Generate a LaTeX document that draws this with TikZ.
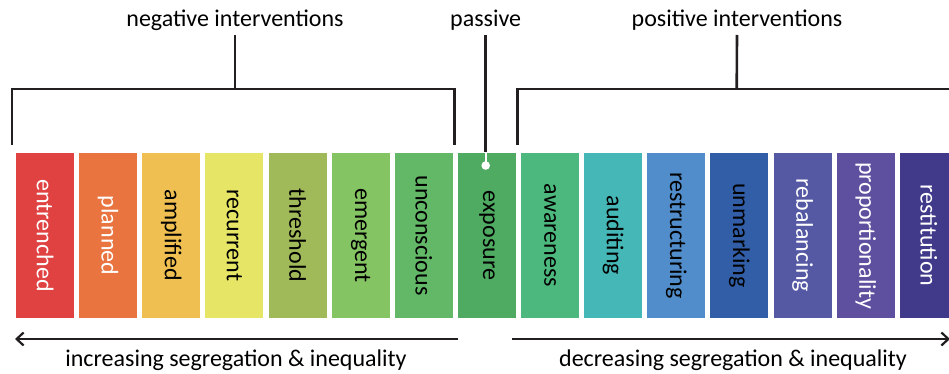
\documentclass[tikz,border=0pt]{standalone}
\usepackage{fontspec}
\setmainfont{Carlito}
\usetikzlibrary{arrows.meta}
\definecolor{cA}{HTML}{E04141}
\definecolor{cB}{HTML}{E9743F}
\definecolor{cC}{HTML}{EFC051}
\definecolor{cD}{HTML}{E6E566}
\definecolor{cE}{HTML}{A1BA59}
\definecolor{cF}{HTML}{85C463}
\definecolor{cG}{HTML}{63B867}
\definecolor{cH}{HTML}{4FAA62}
\definecolor{cI}{HTML}{4DB87D}
\definecolor{cJ}{HTML}{45B7B6}
\definecolor{cK}{HTML}{508DCA}
\definecolor{cL}{HTML}{325EA8}
\definecolor{cM}{HTML}{5559A4}
\definecolor{cN}{HTML}{5E4F9F}
\definecolor{cO}{HTML}{41398A}
\definecolor{ink}{HTML}{231F20}
\tikzset{
  box/.style={rotate=-90, minimum width=165pt, minimum height=58pt, inner sep=0pt,
    font=\fontsize{24}{28}\selectfont},
  lab/.style={anchor=base, inner sep=0pt, font=\fontsize{24}{28}\selectfont, text=black},
  brk/.style={draw=ink, line width=2.6pt, line join=miter},
  arr/.style={draw=ink, line width=2.6pt, -{Straight Barb[length=7pt,width=13pt,line width=2.2pt]}},
}
\begin{document}
\begin{tikzpicture}[x=1pt,y=-1pt]
\useasboundingbox (0,0) rectangle (949,374);
\clip (0,0) rectangle (949,374);
\foreach \i/\lbl/\col/\tc in {
  1/entrenched/cA/white, 2/planned/cB/white, 3/amplified/cC/black,
  4/recurrent/cD/black, 5/threshold/cE/black, 6/emergent/cF/black,
  7/unconscious/cG/black, 8/exposure/cH/black, 9/awareness/cI/black,
  10/auditing/cJ/black, 11/restructuring/cK/black, 12/unmarking/cL/black,
  13/rebalancing/cM/white, 14/proportionality/cN/white, 15/restitution/cO/white}{
  \node[box, fill=\col, text=\tc] (b\i) at ({16+(\i-1)*63.13+29}, 235.5) {\lbl};
}
% labels
\node[lab] (neg) at (235,27) {negative interventions};
\node[lab] (pas) at (485.7,27) {passive};
\node[lab] (pos) at (737,27) {positive interventions};
\node[lab] (inc) at (236,366) {increasing segregation \& inequality};
\node[lab] (dec) at (733,366) {decreasing segregation \& inequality};
% bracket coordinates
\coordinate (nl) at (12,145);
\coordinate (nr) at (454.5,145);
\coordinate (nm) at (235,89);
\coordinate (pl) at (517.3,145);
\coordinate (pe) at (952,89);
\coordinate (pm) at (736.7,89);
\coordinate (pd) at (485.7,152);
\coordinate (pdot) at (485.7,165.5);
% negative bracket
\draw[brk] (nl) |- (nm) -| (nr);
\draw[brk] (nm) -- (neg.south |- 0,35);
% passive
\draw[brk] (pas.south |- 0,35) -- (pd);
\draw[white, line width=1.6pt] (pd) -- (pdot);
\fill[white] (pdot) circle (4.3pt);
% positive bracket
\draw[brk] (pl) |- (pe);
\draw[brk] (pm) -- (pos.south |- 0,35);
% bottom arrows
\coordinate (ia) at (458,339);
\coordinate (ib) at (15,339);
\coordinate (da) at (512,339);
\coordinate (db) at (950,339);
\draw[arr] (ia) -- (ib);
\draw[arr] (da) -- (db);
\end{tikzpicture}
\end{document}
